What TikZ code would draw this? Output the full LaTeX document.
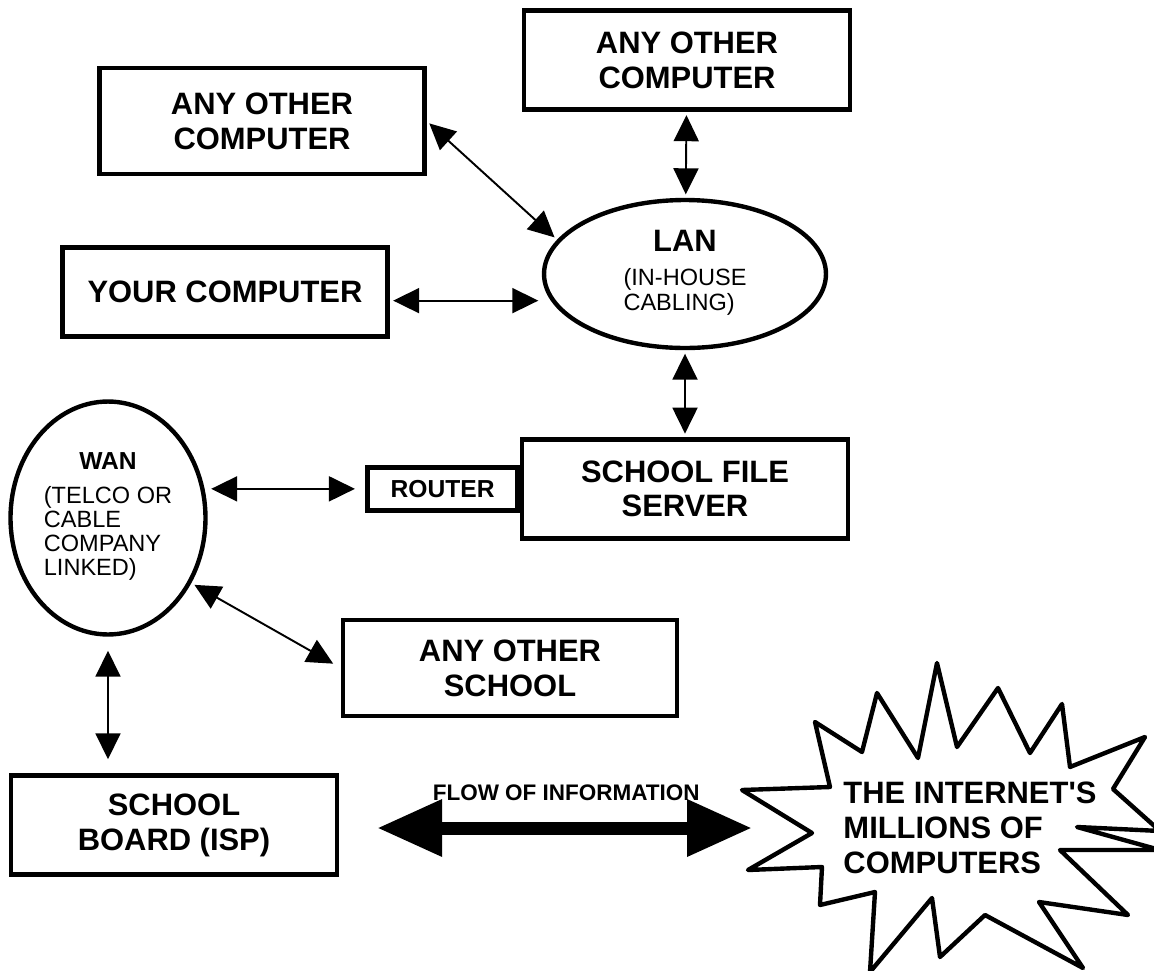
\documentclass[tikz,border=0pt]{standalone}
\usepackage{fontspec}
\setmainfont{Liberation Sans}
\usepackage{tikz}
\usetikzlibrary{positioning, arrows.meta, shapes.geometric}

\newcommand{\bigbold}{\fontsize{17.6}{19.9}\selectfont\bfseries}
\newcommand{\midbold}{\fontsize{14}{15}\selectfont\bfseries}
\newcommand{\smallreg}{\fontsize{13.4}{13.6}\selectfont}

\begin{document}
\begin{tikzpicture}[
    x=0.02cm, y=-0.02cm,
    box/.style={
        rectangle,
        draw=black,
        line width=2.5pt,
        align=center,
        font=\bigbold,
        inner sep=0pt
    },
    cloud/.style={
        ellipse,
        draw=black,
        line width=2.5pt,
        align=center,
        font=\smallreg,
        inner sep=0pt
    },
    link/.style={
        <->,
        >={Triangle[length=0.52cm, width=0.5cm]},
        line width=1.1pt,
        shorten <=2pt,
        shorten >=2pt
    },
    flow/.style={
        <->,
        >={Triangle[length=1.3cm, width=1.08cm]},
        line width=7.4pt
    },
    burst/.style={
        draw=black,
        line width=2.5pt,
        line join=round
    }
]
\useasboundingbox (0,0) rectangle (1154,971);

% LAN
\node[cloud, minimum width=5.64cm, minimum height=2.96cm] (lan) at (685,274) {
    {\bigbold LAN}\\[5.7pt]
    \begin{tabular}[t]{@{}l@{}}(IN-HOUSE\\CABLING)\end{tabular}
};

% Computers round the LAN
\node[box, minimum width=6.52cm, minimum height=1.98cm] (other1) at (687,60) {ANY OTHER\\COMPUTER};
\node[box, minimum width=6.5cm, minimum height=2.12cm] (other2) at (262,121) {ANY OTHER\\COMPUTER};
\node[box, minimum width=6.5cm, minimum height=1.78cm] (you) at (225,292) {YOUR COMPUTER};

% Server and router
\node[box, minimum width=6.52cm, minimum height=1.98cm, below=1.74cm of lan] (server) {SCHOOL FILE\\SERVER};
\node[box, font=\midbold, minimum width=3.0cm, minimum height=0.86cm, left=0pt of server] (router) {ROUTER};

% WAN
\node[cloud, minimum width=3.9cm, minimum height=4.66cm] (wan) at (108,518) {
    {\midbold WAN}\\[5.7pt]
    \begin{tabular}[t]{@{}l@{}}(TELCO OR\\CABLE\\COMPANY\\LINKED)\end{tabular}
};

\node[box, minimum width=6.68cm, minimum height=1.92cm] (school) at (510,668) {ANY OTHER\\SCHOOL};
\node[box, minimum width=6.52cm, minimum height=1.98cm] (board) at (174,825) {SCHOOL\\BOARD (ISP)};

% Internet
\draw[burst] (742,790) -- (830,787) -- (815,722) -- (862,752) -- (877,693)
    -- (918,758) -- (937,663) -- (957,747) -- (998,688) -- (1030,753)
    -- (1062,704) -- (1070,767) -- (1145,737) -- (1113,789) -- (1160,831)
    -- (1077,827) -- (1160,850) -- (1060,850) -- (1128,915) -- (1039,902)
    -- (1083,968) -- (985,915) -- (940,957) -- (932,898) -- (870,972)
    -- (875,892) -- (820,905) -- (822,867) -- (748,870) -- (812,833) -- cycle;
\node[align=left, font=\bigbold, inner sep=0pt] (net) at (970,828) {THE INTERNET\textquotesingle S\\MILLIONS OF\\COMPUTERS};

% Arrows
\draw[link] (other1) -- (lan);
\draw[link] (other2.east) -- (lan.165);
\draw[link] (you.-3) -- (you.-3 -| lan.west);
\draw[link] (lan) -- (server);
\draw[link, shorten >=6pt] (wan.east |- router.west) -- (router.west);
\draw[link, shorten >=5pt] (wan.-38) -- (school.west);
\draw[link, shorten <=8pt, shorten >=8pt] (wan.south) -- (wan.south |- board.north);

\coordinate (flowend) at (752,828);
\draw[flow, shorten <=0.76cm] (board.east |- flowend) -- (flowend)
    node[pos=0.55, above=0.3cm, font=\bfseries\fontsize{12.8}{14}\selectfont] (flowlabel) {FLOW OF INFORMATION};

\end{tikzpicture}
\end{document}
